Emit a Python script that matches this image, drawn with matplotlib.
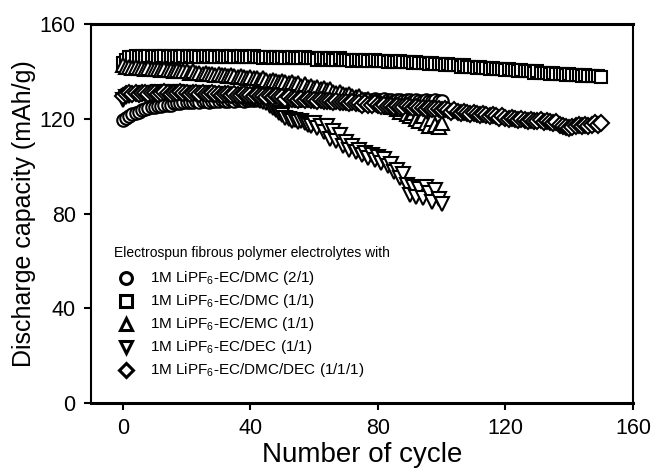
import matplotlib
matplotlib.use("Agg")
import matplotlib.pyplot as plt

plt.rcParams['font.family'] = ['Liberation Sans', 'DejaVu Sans']
plt.rcParams['mathtext.default'] = 'regular'

cycles_150 = list(range(151))
cycles_100 = list(range(101))

# 1M LiPF6-EC/DMC (1/1) - squares
sq = [143.5, 145, 146, 146, 146.5, 146, 146.5, 146, 146.5, 146,
      146.5, 146, 146.5, 146.5, 146, 146.5, 146, 146.5, 146, 146.5,
      146, 146.5, 146, 146.5, 146, 146, 146.5, 146, 146.5, 146,
      146, 146.5, 146, 146, 146.5, 146, 146, 146.5, 146, 146,
      146, 146.5, 146, 146, 145.5, 146, 146, 145.5, 146, 145.5,
      146, 145.5, 145.5, 146, 145.5, 145.5, 145.5, 146, 145.5, 145.5,
      145.5, 145, 145.5, 145.5, 145, 145.5, 145, 145, 145.5, 145,
      145, 145, 144.5, 145, 145, 144.5, 145, 144.5, 144.5, 145,
      144.5, 144.5, 144.5, 144, 144.5, 144, 144, 144.5, 144, 144,
      144, 143.5, 144, 143.5, 143.5, 143.5, 143, 143.5, 143, 143,
      143, 142.5, 143, 142.5, 142.5, 142.5, 142, 142.5, 142, 142,
      142, 141.5, 142, 141.5, 141.5, 141, 141.5, 141, 141, 141,
      140.5, 141, 140.5, 140.5, 140, 140.5, 140, 140, 140, 139.5,
      140, 139.5, 139.5, 139.5, 139, 139.5, 139, 139, 139, 138.5,
      139, 138.5, 138.5, 138.5, 138, 138.5, 138, 138, 138, 138,
      137.5]

# 1M LiPF6-EC/EMC (1/1) - up triangles
tri_up = [142.5, 142, 142, 141.5, 142, 141.5, 141.5, 141, 141.5, 141,
          141, 141, 140.5, 141, 140.5, 140.5, 140, 140.5, 140, 140,
          140, 139.5, 140, 139.5, 139.5, 139, 139.5, 139, 139, 138.5,
          139, 138.5, 138.5, 138, 138.5, 138, 137.5, 138, 137.5, 137,
          137.5, 137, 137, 136.5, 137, 136.5, 136, 136.5, 136, 135.5,
          136, 135.5, 135, 135.5, 134.5, 135, 134, 134.5, 133.5, 134,
          133, 133.5, 132.5, 133, 132, 132.5, 131.5, 131, 131.5, 130.5,
          130, 130.5, 129.5, 129, 129.5, 128.5, 128, 128.5, 127.5, 127,
          127.5, 126.5, 126, 126.5, 125, 125.5, 124, 123, 124, 122,
          121, 122.5, 120, 119, 121, 118, 117, 120, 117.5, 116.5,
          118]

# 1M LiPF6-EC/DMC/DEC (1/1/1) - diamonds
dia = [129.5, 130.5, 131, 130.5, 131, 130.5, 131, 131, 130.5, 131,
       131, 130.5, 131, 131.5, 131, 130.5, 131, 131, 131.5, 131,
       131, 130.5, 131, 131, 130.5, 131, 130.5, 130.5, 131, 130.5,
       130.5, 130, 130.5, 130.5, 130, 130.5, 130, 130, 130.5, 130,
       130, 129.5, 130, 129.5, 129.5, 129, 129.5, 129, 129.5, 129,
       129, 128.5, 129, 128.5, 128.5, 128, 128.5, 128, 128.5, 128,
       128, 127.5, 128, 127.5, 127.5, 127.5, 127, 127.5, 127, 127,
       127, 126.5, 127, 126.5, 126.5, 126, 126.5, 126, 126, 126.5,
       126, 125.5, 126, 125.5, 125.5, 125, 125.5, 125, 125, 125.5,
       125, 124.5, 125, 124.5, 124.5, 124, 124.5, 124, 124, 124,
       123.5, 124, 123.5, 123, 123.5, 123, 122.5, 123, 122.5, 122,
       122.5, 122, 121.5, 122, 121.5, 121, 121.5, 121, 120.5, 121,
       120.5, 120, 120.5, 120, 119.5, 120, 119.5, 119, 119.5, 119,
       119, 119.5, 118.5, 119, 118.5, 118, 118.5, 117.5, 117, 116.5,
       116, 116.5, 117, 117.5, 117, 117.5, 117, 117.5, 118, 117.5,
       118]

# 1M LiPF6-EC/DMC (2/1) - circles
circ = [119.5, 120.5, 121, 122, 122.5, 123, 123.5, 124, 124.5, 125,
        125, 125.5, 125.5, 126, 126, 126, 126.5, 126.5, 126.5, 127,
        127, 127, 127, 127.5, 127, 127.5, 127.5, 127, 127.5, 127.5,
        127.5, 128, 127.5, 127.5, 128, 127.5, 128, 128, 127.5, 128,
        128, 128, 128.5, 128, 128, 128.5, 128, 128.5, 128, 128,
        128.5, 128, 128.5, 128.5, 128, 128.5, 128, 128.5, 128.5, 128,
        128.5, 128, 128.5, 128, 128.5, 128.5, 128, 128.5, 128, 128.5,
        128, 128.5, 128, 128.5, 128, 128, 128.5, 128, 128, 128.5,
        128, 128, 128.5, 128, 128, 127.5, 128, 128, 127.5, 128,
        128, 127.5, 128, 127.5, 127.5, 128, 127.5, 127.5, 128, 127.5,
        127.5]

# 1M LiPF6-EC/DEC (1/1) - down triangles
tri_dn = [128, 129, 129.5, 130, 130.5, 130, 130.5, 131, 130.5, 131,
          131, 131.5, 131, 131, 131.5, 131, 131, 131.5, 131, 131,
          131, 130.5, 131, 131, 130.5, 131, 130.5, 130.5, 130, 130.5,
          130, 130, 129.5, 130, 129.5, 129.5, 129.5, 129, 129, 128.5,
          128.5, 128, 128, 127.5, 127, 126.5, 125.5, 124.5, 123.5, 122.5,
          121.5, 120.5, 120, 119, 119.5, 118.5, 119, 118, 117.5, 117,
          118, 116, 117, 114.5, 117, 111.5, 115, 110.5, 113, 108.5,
          110, 107, 108.5, 106, 107, 104.5, 105.5, 103.5, 104.5, 102.5,
          104, 101.5, 103, 100, 101, 97.5, 98.5, 95, 96.5, 92,
          88, 91, 87, 90.5, 86.5, 91, 88.5, 85, 90, 86,
          84]

labels = ['1M LiPF$_6$-EC/DMC (2/1)', '1M LiPF$_6$-EC/DMC (1/1)',
          '1M LiPF$_6$-EC/EMC (1/1)', '1M LiPF$_6$-EC/DEC (1/1)',
          '1M LiPF$_6$-EC/DMC/DEC (1/1/1)']
legend_title = 'Electrospun fibrous polymer electrolytes with'
x_ticks = [0, 40, 80, 120, 160]
y_ticks = [0, 40, 80, 120, 160]

fig = plt.figure(figsize=(6.53, 4.68), dpi=100)
ax = fig.add_axes([91/653, 1 - 403/468, 542/653, 379/468])

series = [
    (cycles_100, circ, 'o', 9.0),
    (cycles_150, sq, 's', 9.0),
    (cycles_100, tri_up, '^', 9.5),
    (cycles_100, tri_dn, 'v', 9.5),
    (cycles_150, dia, 'D', 8.0),
]
for x, y, m, ms in series:
    ax.plot(x, y, linestyle='none', marker=m, markersize=ms,
            markerfacecolor='white', markeredgecolor='black',
            markeredgewidth=1.5)

ax.set_xlim(-10, 160)
ax.set_ylim(0, 160)
ax.set_xticks(x_ticks)
ax.set_yticks(y_ticks)
ax.tick_params(direction='out', length=5, width=1.5, labelsize=15.5, pad=6)
for s in ax.spines.values():
    s.set_linewidth(1.5)
ax.spines['top'].set_linewidth(2.2)
ax.spines['bottom'].set_linewidth(2.2)
ax.set_xlabel('Number of cycle', fontsize=20, labelpad=2)
ax.set_ylabel('Discharge capacity (mAh/g)', fontsize=18, labelpad=3)

# manual legend
def fx(px):
    return (px - 91) / 542
def fy(py):
    return (403 - py) / 379

ax.text(fx(114), fy(253), legend_title, transform=ax.transAxes,
        fontsize=10, va='center', ha='left')
rows = [278, 301, 324, 347, 370]
for (x, y, m, ms), lab, py in zip(series, labels, rows):
    ax.plot([fx(126)], [fy(py)], transform=ax.transAxes, linestyle='none',
            marker=m, markersize=ms * 0.95, markerfacecolor='white',
            markeredgecolor='black', markeredgewidth=2.2, clip_on=False)
    ax.text(fx(150), fy(py), lab, transform=ax.transAxes,
            fontsize=11, va='center', ha='left')

fig.savefig('out.png', dpi=100)
